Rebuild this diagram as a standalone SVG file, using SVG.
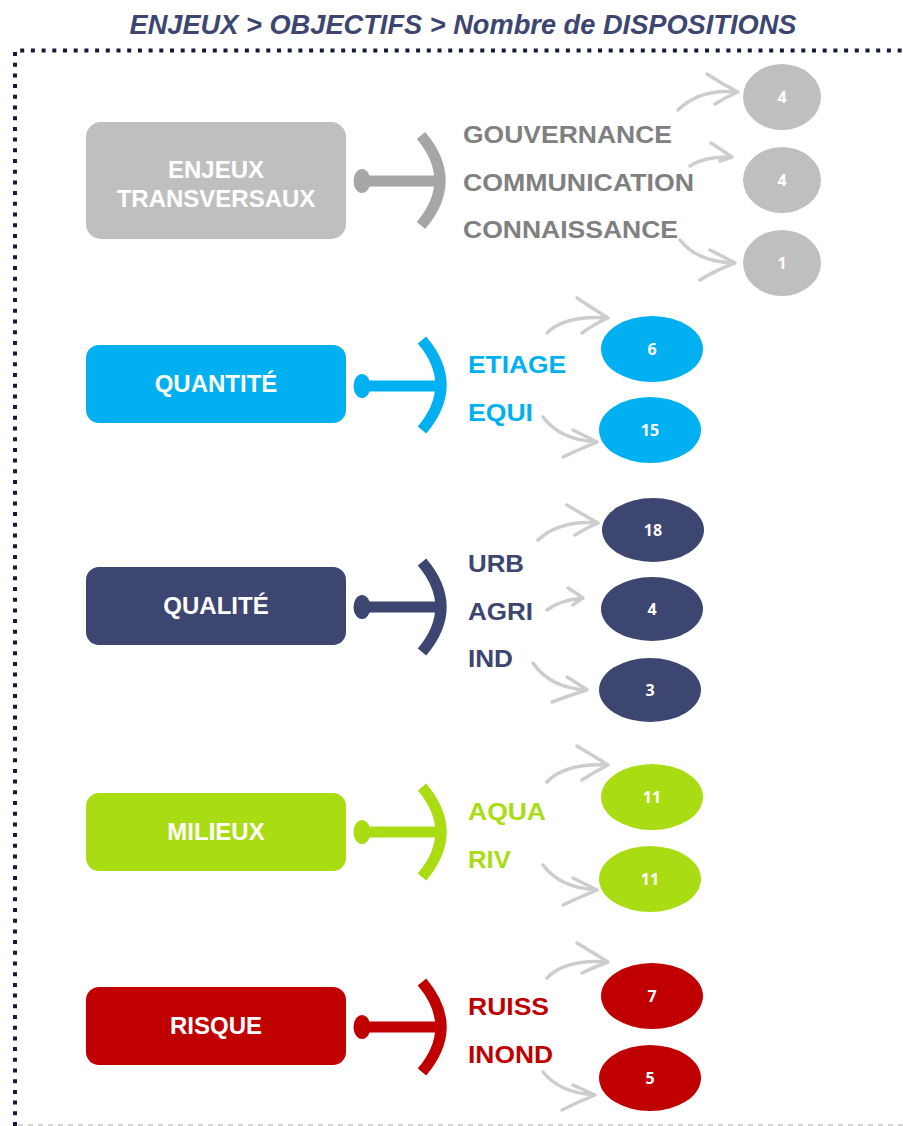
<svg xmlns="http://www.w3.org/2000/svg" width="903" height="1126" viewBox="0 0 903 1126">
<defs>
<style>
.title{font-family:"Liberation Sans",Arial,sans-serif;font-style:italic;font-weight:bold;font-size:27px;fill:#3d4670}
.nt{font-family:"Liberation Sans",Arial,sans-serif;font-weight:bold;font-size:24px;fill:#fff;text-anchor:middle}
.ob{font-family:"Liberation Sans",Arial,sans-serif;font-weight:bold;font-size:24px}
.num{font-family:"Open Sans","DejaVu Sans",sans-serif;font-weight:bold;font-size:16px;fill:#fff;text-anchor:middle}
.arr{fill:none;stroke:#c8c8c8;stroke-width:3.5;stroke-linecap:round;stroke-linejoin:round;opacity:0.9}
</style>
<path id="brk" d="M2 -45 Q40 0 2 45" fill="none" stroke-width="11"/>
</defs>
<rect width="903" height="1126" fill="#fff"/>
<text class="title" x="463" y="34" text-anchor="middle" textLength="667" lengthAdjust="spacingAndGlyphs">ENJEUX &gt; OBJECTIFS &gt; Nombre de DISPOSITIONS</text>
<path d="M15 1126 V50.5 H903" fill="none" stroke="#141a3a" stroke-width="4" stroke-dasharray="4 6.7"/>
<line x1="18" y1="1125" x2="903" y2="1125" stroke="#c8c8c8" stroke-width="1.5" stroke-dasharray="5 5"/>

<g id="enjeux">
<rect x="86" y="122" width="260" height="117" rx="15" fill="#bfbfbf"/>
<text class="nt" x="216" y="178">ENJEUX</text>
<text class="nt" x="216" y="207">TRANSVERSAUX</text>
<ellipse cx="362" cy="181" rx="8.5" ry="12" fill="#a6a6a6"/>
<rect x="362" y="175.5" width="74" height="11" fill="#a6a6a6"/>
<use href="#brk" transform="translate(419 180.5)" stroke="#a6a6a6"/>
<text class="ob" x="463" y="143" fill="#808080" textLength="209" lengthAdjust="spacingAndGlyphs">GOUVERNANCE</text>
<text class="ob" x="463" y="191" fill="#808080" textLength="231" lengthAdjust="spacingAndGlyphs">COMMUNICATION</text>
<text class="ob" x="463" y="238" fill="#808080" textLength="215" lengthAdjust="spacingAndGlyphs">CONNAISSANCE</text>
<ellipse cx="782" cy="97" rx="39" ry="33" fill="#bfbfbf"/><text class="num" x="782" y="103">4</text>
<ellipse cx="782" cy="180" rx="39" ry="33" fill="#bfbfbf"/><text class="num" x="782" y="186">4</text>
<ellipse cx="782" cy="263" rx="39" ry="33" fill="#bfbfbf"/><text class="num" x="782" y="269">1</text>
</g>

<g id="quantite">
<rect x="86" y="345" width="260" height="78" rx="13" fill="#00b0f0"/>
<text class="nt" x="216" y="392">QUANTITÉ</text>
<ellipse cx="362" cy="386" rx="8.5" ry="12" fill="#00b0f0"/>
<rect x="362" y="380.5" width="74" height="11" fill="#00b0f0"/>
<use href="#brk" transform="translate(420 385)" stroke="#00b0f0"/>
<text class="ob" x="468" y="373" fill="#00b0f0" textLength="98" lengthAdjust="spacingAndGlyphs">ETIAGE</text>
<text class="ob" x="468" y="421" fill="#00b0f0" textLength="65" lengthAdjust="spacingAndGlyphs">EQUI</text>
<ellipse cx="652" cy="349" rx="51" ry="33" fill="#00b0f0"/><text class="num" x="652" y="355">6</text>
<ellipse cx="650" cy="430" rx="51" ry="33" fill="#00b0f0"/><text class="num" x="650" y="436">15</text>
</g>

<g id="qualite">
<rect x="86" y="567" width="260" height="78" rx="13" fill="#3d4670"/>
<text class="nt" x="216" y="614">QUALITÉ</text>
<ellipse cx="362" cy="607" rx="8.5" ry="12" fill="#3d4670"/>
<rect x="362" y="601.5" width="74" height="11" fill="#3d4670"/>
<use href="#brk" transform="translate(420 607)" stroke="#3d4670"/>
<text class="ob" x="468" y="572" fill="#3d4670" textLength="56" lengthAdjust="spacingAndGlyphs">URB</text>
<text class="ob" x="468" y="620" fill="#3d4670" textLength="65" lengthAdjust="spacingAndGlyphs">AGRI</text>
<text class="ob" x="468" y="667" fill="#3d4670" textLength="45" lengthAdjust="spacingAndGlyphs">IND</text>
<ellipse cx="653" cy="530" rx="51" ry="32" fill="#3d4670"/><text class="num" x="653" y="536">18</text>
<ellipse cx="652" cy="609" rx="51" ry="32" fill="#3d4670"/><text class="num" x="652" y="615">4</text>
<ellipse cx="650" cy="690" rx="51" ry="32" fill="#3d4670"/><text class="num" x="650" y="696">3</text>
</g>

<g id="milieux">
<rect x="86" y="793" width="260" height="78" rx="13" fill="#aadc14"/>
<text class="nt" x="216" y="840">MILIEUX</text>
<ellipse cx="362" cy="832" rx="8.5" ry="12" fill="#aadc14"/>
<rect x="362" y="826.5" width="74" height="11" fill="#aadc14"/>
<use href="#brk" transform="translate(420 832)" stroke="#aadc14"/>
<text class="ob" x="468" y="820" fill="#aadc14" textLength="78" lengthAdjust="spacingAndGlyphs">AQUA</text>
<text class="ob" x="468" y="868" fill="#aadc14" textLength="43" lengthAdjust="spacingAndGlyphs">RIV</text>
<ellipse cx="652" cy="797" rx="51" ry="33" fill="#aadc14"/><text class="num" x="652" y="803">11</text>
<ellipse cx="650" cy="879" rx="51" ry="33" fill="#aadc14"/><text class="num" x="650" y="885">11</text>
</g>

<g id="risque">
<rect x="86" y="987" width="260" height="78" rx="13" fill="#c00000"/>
<text class="nt" x="216" y="1034">RISQUE</text>
<ellipse cx="362" cy="1027" rx="8.5" ry="12" fill="#c00000"/>
<rect x="362" y="1021.5" width="74" height="11" fill="#c00000"/>
<use href="#brk" transform="translate(420 1027)" stroke="#c00000"/>
<text class="ob" x="468" y="1015" fill="#c00000" textLength="81" lengthAdjust="spacingAndGlyphs">RUISS</text>
<text class="ob" x="468" y="1063" fill="#c00000" textLength="85" lengthAdjust="spacingAndGlyphs">INOND</text>
<ellipse cx="652" cy="996" rx="51" ry="33" fill="#c00000"/><text class="num" x="652" y="1002">7</text>
<ellipse cx="650" cy="1078" rx="51" ry="33" fill="#c00000"/><text class="num" x="650" y="1084">5</text>
</g>

<g id="connectors">
<path class="arr" d="M678 110 Q700 88 738 92 M707 74 Q722 84 738 92 Q726 97 715 104"/>
<path class="arr" d="M690 166 Q705 156 732 157 M711 143 Q722 150 732 157 Q726 159 720 161"/>
<path class="arr" d="M680 240 Q697 262 735 263 M710 250 Q722 256 735 263 Q716 270 700 280"/>
<path class="arr" d="M547 333 Q565 315 608 318 M577 298 Q592 308 608 318 Q594 324 582 333"/>
<path class="arr" d="M543 417 Q560 440 597 442 M573 430 Q585 436 597 442 Q580 449 563 457"/>
<path class="arr" d="M538 540 Q560 520 598 523 M567 505 Q582 514 598 523 Q586 528 575 535"/>
<path class="arr" d="M547 610 Q560 600 583 598 M568 588 Q576 593 583 598 Q578 601 573 605"/>
<path class="arr" d="M533 663 Q550 688 587 690 M567 677 Q577 683 587 690 Q570 695 552 702"/>
<path class="arr" d="M547 782 Q565 763 608 765 M577 746 Q592 755 608 765 Q594 772 582 780"/>
<path class="arr" d="M543 865 Q560 888 597 890 M573 878 Q585 884 597 890 Q580 897 563 905"/>
<path class="arr" d="M547 978 Q565 959 608 962 M577 943 Q592 952 608 962 Q594 967 582 973"/>
<path class="arr" d="M543 1072 Q560 1093 595 1095 M573 1085 Q584 1090 595 1095 Q578 1102 562 1110"/>
</g>
</svg>
